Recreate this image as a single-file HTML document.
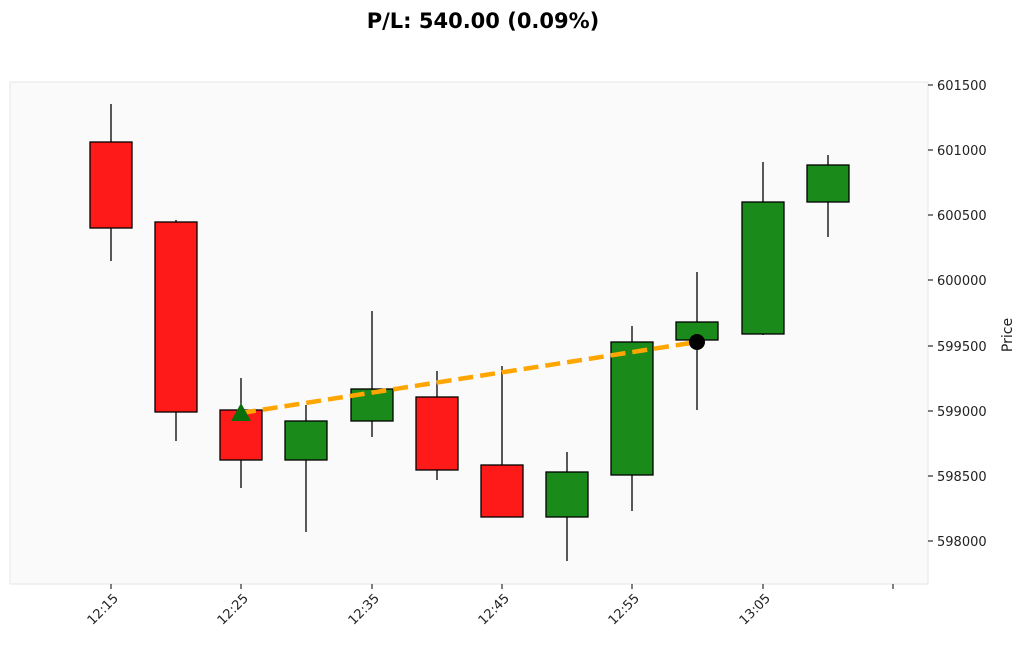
<!DOCTYPE html>
<html><head><meta charset="utf-8"><style>
body{margin:0;background:#fff;width:1024px;height:644px;overflow:hidden;font-family:"Liberation Sans","DejaVu Sans",sans-serif}
</style></head><body>
<svg width="1024" height="644" xmlns="http://www.w3.org/2000/svg" font-family="DejaVu Sans, Liberation Sans, sans-serif">
<text x="483" y="28" font-size="21" font-weight="bold" text-anchor="middle">P/L: 540.00 (0.09%)</text>
<rect x="10" y="82" width="918" height="502" fill="#fafafa" stroke="#e6e6e6"/>
<g stroke="#000" stroke-width="1.3">
<line x1="111" y1="104" x2="111" y2="261"/>
<line x1="176" y1="220" x2="176" y2="441"/>
<line x1="241" y1="378" x2="241" y2="488"/>
<line x1="306" y1="405" x2="306" y2="532"/>
<line x1="372" y1="311" x2="372" y2="437"/>
<line x1="437" y1="371" x2="437" y2="480"/>
<line x1="502" y1="366" x2="502" y2="517"/>
<line x1="567" y1="452" x2="567" y2="561"/>
<line x1="632" y1="326" x2="632" y2="511"/>
<line x1="697" y1="272" x2="697" y2="410"/>
<line x1="763" y1="162" x2="763" y2="335"/>
<line x1="828" y1="155" x2="828" y2="237"/>
</g>
<g stroke="#000" stroke-width="1.3">
<rect x="90" y="142" width="42" height="86" fill="#ff1a1a"/>
<rect x="155" y="222" width="42" height="190" fill="#ff1a1a"/>
<rect x="220" y="410" width="42" height="50" fill="#ff1a1a"/>
<rect x="285" y="421" width="42" height="39" fill="#1a8a1a"/>
<rect x="351" y="389" width="42" height="32" fill="#1a8a1a"/>
<rect x="416" y="397" width="42" height="73" fill="#ff1a1a"/>
<rect x="481" y="465" width="42" height="52" fill="#ff1a1a"/>
<rect x="546" y="472" width="42" height="45" fill="#1a8a1a"/>
<rect x="611" y="342" width="42" height="133" fill="#1a8a1a"/>
<rect x="676" y="322" width="42" height="18" fill="#1a8a1a"/>
<rect x="742" y="202" width="42" height="132" fill="#1a8a1a"/>
<rect x="807" y="165" width="42" height="37" fill="#1a8a1a"/>
</g>
<line x1="241" y1="413" x2="697" y2="342" stroke="#ffa500" stroke-width="4.5" stroke-dasharray="15,7"/>
<polygon points="241,403 251,421 231,421" fill="#0a6e0a"/>
<circle cx="697" cy="342" r="8" fill="#000"/>
<g font-size="13" fill="#222">
<g stroke="#000"><line x1="928" y1="85" x2="933" y2="85"/><line x1="928" y1="150" x2="933" y2="150"/><line x1="928" y1="215" x2="933" y2="215"/><line x1="928" y1="280" x2="933" y2="280"/><line x1="928" y1="346" x2="933" y2="346"/><line x1="928" y1="411" x2="933" y2="411"/><line x1="928" y1="476" x2="933" y2="476"/><line x1="928" y1="541" x2="933" y2="541"/></g>
<text x="937" y="90">601500</text><text x="937" y="155">601000</text><text x="937" y="220">600500</text><text x="937" y="285">600000</text><text x="937" y="351">599500</text><text x="937" y="416">599000</text><text x="937" y="481">598500</text><text x="937" y="546">598000</text>
<text transform="translate(1012,335) rotate(-90)" text-anchor="middle" font-size="14">Price</text>
</g>
<g stroke="#000"><line x1="111" y1="584" x2="111" y2="589"/><line x1="241" y1="584" x2="241" y2="589"/><line x1="372" y1="584" x2="372" y2="589"/><line x1="502" y1="584" x2="502" y2="589"/><line x1="632" y1="584" x2="632" y2="589"/><line x1="763" y1="584" x2="763" y2="589"/><line x1="893" y1="584" x2="893" y2="589"/></g>
<g font-size="13" fill="#222" text-anchor="end">
<text transform="translate(119,599) rotate(-45)">12:15</text>
<text transform="translate(249,599) rotate(-45)">12:25</text>
<text transform="translate(380,599) rotate(-45)">12:35</text>
<text transform="translate(510,599) rotate(-45)">12:45</text>
<text transform="translate(640,599) rotate(-45)">12:55</text>
<text transform="translate(771,599) rotate(-45)">13:05</text>
</g>
</svg>
</body></html>
